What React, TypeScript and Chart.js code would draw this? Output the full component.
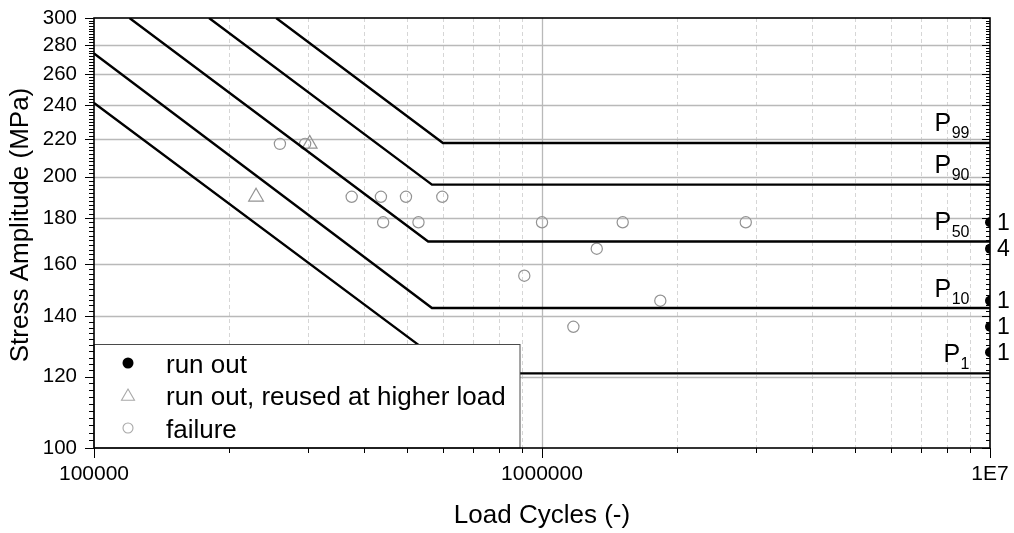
import { useEffect, useRef } from 'react';
import { Chart, registerables } from 'chart.js';

Chart.register(...registerables);

const FONT = '"Liberation Sans", Arial, Helvetica, sans-serif';

// Failed specimens (load cycles, stress amplitude in MPa)
const FAILURE_CYCLES = [260000, 296000, 376000, 437000, 497000, 599000, 442000, 530000, 1000000, 1514000, 2850000, 1325000, 913000, 1837000, 1175000];
const FAILURE_STRESS = [217.5, 217.5, 190, 190, 190, 190, 178, 178, 178, 178, 178, 166.4, 155.3, 145.7, 136.3];

// Run-outs that were reused at a higher load
const REUSED_CYCLES = [230000, 303000];
const REUSED_STRESS = [190, 217.5];

// Run-outs at the 1E7 limit, with the number of specimens per level
const RUNOUT_CYCLES = [1e7, 1e7, 1e7, 1e7, 1e7];
const RUNOUT_STRESS = [178, 166.4, 145.7, 136.3, 127.7];
const RUNOUT_COUNTS = ['1', '4', '1', '1', '1'];

// P-S-N curves: start of the sloped branch, knee point, endurance limit up to 1E7
const CURVE_NAMES = ['99', '90', '50', '10', '1'];
const CURVE_START_CYCLES = [255000, 180600, 120000, 100000, 100000];
const CURVE_START_STRESS = [300, 300, 300, 274, 241.5];
const CURVE_KNEE_CYCLES = [601000, 568000, 557000, 568000, 645000];
const CURVE_ENDURANCE = [218, 196, 169.5, 143, 121];
const CURVE_END_CYCLES = 1e7;

const X_TICKS = [1e5, 1e6, 1e7];
const X_TICK_LABELS = ['100000', '1000000', '1E7'];
const X_DECADES = [1e5, 1e6];
const Y_TICKS = [100, 120, 140, 160, 180, 200, 220, 240, 260, 280, 300];
const Y_MINOR_STEP = 2;

const X_TITLE = 'Load Cycles (-)';
const Y_TITLE = 'Stress Amplitude (MPa)';
const LEGEND_LABELS = ['run out', 'run out, reused at higher load', 'failure'];

const MARKER_GREY = '#939393';

function drawTriangle(ctx: CanvasRenderingContext2D, x: number, y: number, r: number) {
  ctx.beginPath();
  for (let k = 0; k < 3; k++) {
    const a = (k * 2 * Math.PI) / 3;
    const px = x + Math.sin(a) * r;
    const py = y - Math.cos(a) * r;
    if (k === 0) ctx.moveTo(px, py);
    else ctx.lineTo(px, py);
  }
  ctx.closePath();
}

function noOverhang(s: any) {
  s.paddingTop = 0;
  s.paddingBottom = 0;
  s.paddingLeft = 0;
  s.paddingRight = 0;
}

const decorPlugin = {
  id: 'decor',
  beforeDatasetsDraw(chart: any) {
    const { ctx, chartArea: a, scales } = chart;
    const xs = scales.x;
    const ys = scales.y;
    ctx.save();
    ctx.lineWidth = 1;
    // dashed minor vertical grid
    ctx.strokeStyle = '#d6d6d6';
    ctx.setLineDash([4, 3]);
    for (const d of X_DECADES) {
      for (let m = 2; m <= 9; m++) {
        const px = Math.round(xs.getPixelForValue(d * m)) + 0.5;
        ctx.beginPath();
        ctx.moveTo(px, a.top);
        ctx.lineTo(px, a.bottom);
        ctx.stroke();
      }
    }
    ctx.setLineDash([]);
    // solid major grid
    ctx.strokeStyle = '#b9b9b9';
    ctx.lineWidth = 1.3;
    for (const v of Y_TICKS) {
      if (v === Y_TICKS[0] || v === Y_TICKS[Y_TICKS.length - 1]) continue;
      const py = Math.round(ys.getPixelForValue(v)) + 0.5;
      ctx.beginPath();
      ctx.moveTo(a.left, py);
      ctx.lineTo(a.right, py);
      ctx.stroke();
    }
    for (const v of X_TICKS) {
      if (v === X_TICKS[0] || v === X_TICKS[X_TICKS.length - 1]) continue;
      const px = Math.round(xs.getPixelForValue(v)) + 0.5;
      ctx.beginPath();
      ctx.moveTo(px, a.top);
      ctx.lineTo(px, a.bottom);
      ctx.stroke();
    }
    ctx.restore();
  },
  afterDatasetsDraw(chart: any) {
    const { ctx, chartArea: a, scales } = chart;
    const xs = scales.x;
    const ys = scales.y;
    ctx.save();

    // legend box
    const lx = a.left;
    const ly = 344.5;
    const lw = 426;
    ctx.fillStyle = '#ffffff';
    ctx.fillRect(lx, ly, lw, a.bottom - ly);
    ctx.strokeStyle = '#4a4a4a';
    ctx.lineWidth = 1;
    ctx.strokeRect(lx, ly, lw, a.bottom - ly);
    const rows = [363, 395, 428];
    const sx = 128;
    ctx.fillStyle = '#000';
    ctx.beginPath();
    ctx.arc(sx, rows[0], 5.5, 0, Math.PI * 2);
    ctx.fill();
    ctx.strokeStyle = '#a8a8a8';
    ctx.lineWidth = 1.1;
    drawTriangle(ctx, sx, rows[1] + 1.5, 7.5);
    ctx.stroke();
    ctx.beginPath();
    ctx.arc(sx, rows[2], 5, 0, Math.PI * 2);
    ctx.stroke();
    ctx.fillStyle = '#000';
    ctx.font = `26px ${FONT}`;
    ctx.textAlign = 'left';
    ctx.textBaseline = 'alphabetic';
    LEGEND_LABELS.forEach((t, i) => ctx.fillText(t, 166, rows[i] + 9.5));

    // axis frame
    ctx.strokeStyle = '#000';
    ctx.lineWidth = 1.6;
    ctx.strokeRect(a.left, a.top, a.right - a.left, a.bottom - a.top);

    // tick marks
    ctx.lineWidth = 1;
    for (let v = Y_TICKS[0]; v <= Y_TICKS[Y_TICKS.length - 1]; v += Y_MINOR_STEP) {
      const py = Math.round(ys.getPixelForValue(v)) + 0.5;
      const major = Y_TICKS.includes(v);
      const lenOut = major ? 9 : 5;
      const lenIn = major ? 8 : 4;
      ctx.beginPath();
      ctx.moveTo(a.left - lenOut, py);
      ctx.lineTo(a.left, py);
      ctx.moveTo(a.right - lenIn, py);
      ctx.lineTo(a.right, py);
      ctx.stroke();
    }
    const xTickVals: number[] = [...X_TICKS];
    for (const d of X_DECADES) for (let m = 2; m <= 9; m++) xTickVals.push(d * m);
    for (const v of xTickVals) {
      const px = Math.round(xs.getPixelForValue(v)) + 0.5;
      const len = X_TICKS.includes(v) ? 10 : 5;
      ctx.beginPath();
      ctx.moveTo(px, a.bottom);
      ctx.lineTo(px, a.bottom + len);
      ctx.stroke();
    }

    // P-curve labels
    ctx.fillStyle = '#000';
    ctx.textBaseline = 'alphabetic';
    ctx.textAlign = 'left';
    CURVE_NAMES.forEach((name, i) => {
      const py = ys.getPixelForValue(CURVE_ENDURANCE[i]);
      const base = py - 11.5;
      ctx.font = `25px ${FONT}`;
      const wP = ctx.measureText('P').width;
      ctx.font = `16px ${FONT}`;
      const wS = ctx.measureText(name).width;
      const x0 = a.right - 21 - wP - wS;
      ctx.font = `25px ${FONT}`;
      ctx.fillText('P', x0, base);
      ctx.font = `16px ${FONT}`;
      ctx.fillText(name, x0 + wP + 0.5, base + 7);
    });

    // run-out counts
    ctx.font = `23px ${FONT}`;
    ctx.textBaseline = 'middle';
    RUNOUT_COUNTS.forEach((c, i) => {
      const py = ys.getPixelForValue(RUNOUT_STRESS[i]);
      ctx.fillText(c, a.right + 7, py + 1);
    });

    // axis titles
    ctx.font = `26px ${FONT}`;
    ctx.textAlign = 'center';
    ctx.textBaseline = 'alphabetic';
    ctx.fillText(X_TITLE, (a.left + a.right) / 2, 523);
    ctx.save();
    ctx.translate(28, (a.top + a.bottom) / 2 - 8);
    ctx.rotate(-Math.PI / 2);
    ctx.fillText(Y_TITLE, 0, 0);
    ctx.restore();

    ctx.restore();
  },
};

function buildDatasets() {
  const curves = CURVE_NAMES.map((name, i) => ({
    label: 'P' + name,
    data: [
      { x: CURVE_START_CYCLES[i], y: CURVE_START_STRESS[i] },
      { x: CURVE_KNEE_CYCLES[i], y: CURVE_ENDURANCE[i] },
      { x: CURVE_END_CYCLES, y: CURVE_ENDURANCE[i] },
    ],
    showLine: true,
    borderColor: '#000',
    borderWidth: 2.4,
    pointRadius: 0,
    clip: 0,
  }));
  return [
    ...curves,
    {
      label: 'failure',
      data: FAILURE_CYCLES.map((x, i) => ({ x, y: FAILURE_STRESS[i] })),
      pointStyle: 'circle',
      pointRadius: 5.6,
      borderWidth: 1.2,
      borderColor: MARKER_GREY,
      backgroundColor: 'rgba(0,0,0,0)',
    },
    {
      label: 'run out, reused at higher load',
      data: REUSED_CYCLES.map((x, i) => ({ x, y: REUSED_STRESS[i] })),
      pointStyle: 'triangle',
      pointRadius: 8.5,
      borderWidth: 1.2,
      borderColor: MARKER_GREY,
      backgroundColor: 'rgba(0,0,0,0)',
    },
    {
      label: 'run out',
      data: RUNOUT_CYCLES.map((x, i) => ({ x, y: RUNOUT_STRESS[i] })),
      pointStyle: 'circle',
      pointRadius: 5,
      borderWidth: 0,
      backgroundColor: '#000',
      clip: 0,
    },
  ];
}

export default function App() {
  const ref = useRef<HTMLCanvasElement>(null);
  useEffect(() => {
    const canvas = ref.current;
    if (!canvas) return;
    const chart = new Chart(canvas, {
      type: 'scatter',
      data: { datasets: buildDatasets() as any },
      options: {
        responsive: false,
        animation: false,
        events: [],
        layout: { padding: { left: 0, top: 18, right: 24, bottom: 0 } },
        plugins: { legend: { display: false }, tooltip: { enabled: false } },
        scales: {
          x: {
            type: 'logarithmic',
            position: 'bottom',
            min: X_TICKS[0],
            max: X_TICKS[X_TICKS.length - 1],
            grid: { display: false, drawTicks: false, tickLength: 0 },
            border: { display: false },
            afterBuildTicks: (s: any) => {
              s.ticks = X_TICKS.map((v) => ({ value: v }));
            },
            afterFit: (s: any) => {
              s.height = 85;
              noOverhang(s);
            },
            ticks: {
              autoSkip: false,
              maxRotation: 0,
              padding: 14,
              color: '#000',
              font: { family: FONT, size: 21 },
              callback: (v: any) => {
                const i = X_TICKS.indexOf(Number(v));
                return i >= 0 ? X_TICK_LABELS[i] : '';
              },
            },
          },
          y: {
            type: 'logarithmic',
            position: 'left',
            min: Y_TICKS[0],
            max: Y_TICKS[Y_TICKS.length - 1],
            grid: { display: false, drawTicks: false, tickLength: 0 },
            border: { display: false },
            afterBuildTicks: (s: any) => {
              s.ticks = Y_TICKS.map((v) => ({ value: v }));
            },
            afterFit: (s: any) => {
              s.width = 94;
              noOverhang(s);
            },
            ticks: {
              autoSkip: false,
              padding: 17,
              color: '#000',
              font: { family: FONT, size: 20.5 },
              callback: (v: any) => String(v),
            },
          },
        },
      },
      plugins: [decorPlugin],
    });
    return () => chart.destroy();
  }, []);
  return (
    <canvas
      ref={ref}
      width={1014}
      height={533}
      style={{ position: 'absolute', left: 0, top: 0, display: 'block' }}
    />
  );
}
